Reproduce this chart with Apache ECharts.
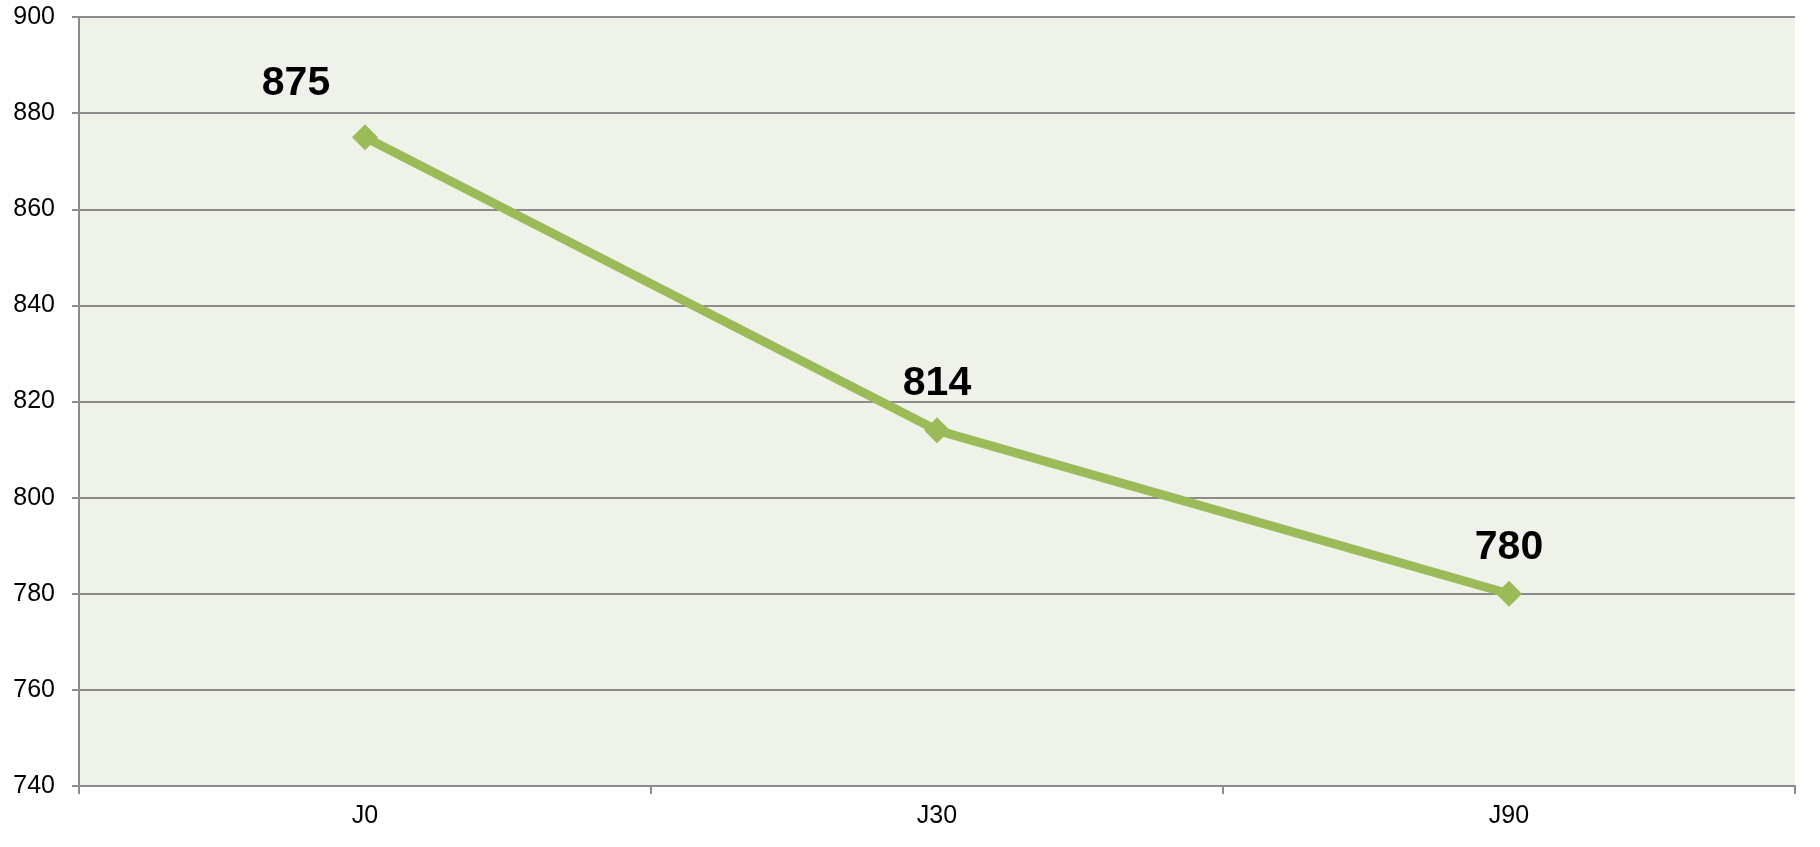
<!DOCTYPE html>
<html>
<head>
<meta charset="utf-8">
<script src="https://cdn.jsdelivr.net/npm/echarts@6/dist/echarts.min.js"></script>
<style>
html,body{margin:0;padding:0;background:#fff;}
#chart{width:1820px;height:847px;}
</style>
</head>
<body>
<div id="chart"></div>
<script>
// 数据
var categories = ['J0', 'J30', 'J90'];
var values = [875, 814, 780];
var yMin = 740, yMax = 900, yStep = 20;

var chart = echarts.init(document.getElementById('chart'));

// 第一个标签偏左
var points = values.map(function(v, i){
    var item = {value: v};
    if (i === 0) {
        item.label = {offset: [-69, -7]};
    }
    return item;
});

chart.setOption({
    animation: false,
    textStyle: {fontFamily: 'Liberation Sans, Arial, sans-serif'},
    grid: {
        left: 79, right: 25, top: 17, bottom: 61,
        show: true,
        backgroundColor: '#EFF2E8',
        borderWidth: 0
    },
    xAxis: {
        type: 'category',
        data: categories,
        boundaryGap: true,
        axisLine: {lineStyle: {color: '#8C8C8C', width: 2}},
        axisTick: {show: true, length: 8, lineStyle: {color: '#8C8C8C', width: 2}},
        axisLabel: {color: '#000', fontSize: 25, margin: 18}
    },
    yAxis: {
        type: 'value',
        min: yMin, max: yMax, interval: yStep,
        axisLine: {show: true, lineStyle: {color: '#8C8C8C', width: 2}},
        axisTick: {show: true, length: 7, lineStyle: {color: '#8C8C8C', width: 2}},
        axisLabel: {color: '#000', fontSize: 25, margin: 24},
        splitLine: {lineStyle: {color: '#8C8C8C', width: 2}}
    },
    series: [{
        type: 'line',
        data: points,
        symbol: 'diamond',
        symbolSize: 26,
        itemStyle: {color: '#9BBB59'},
        lineStyle: {color: '#9BBB59', width: 9},
        label: {
            show: true,
            position: 'top',
            distance: 13,
            color: '#000',
            fontSize: 41,
            fontWeight: 'bold'
        }
    }]
});
</script>
</body>
</html>
